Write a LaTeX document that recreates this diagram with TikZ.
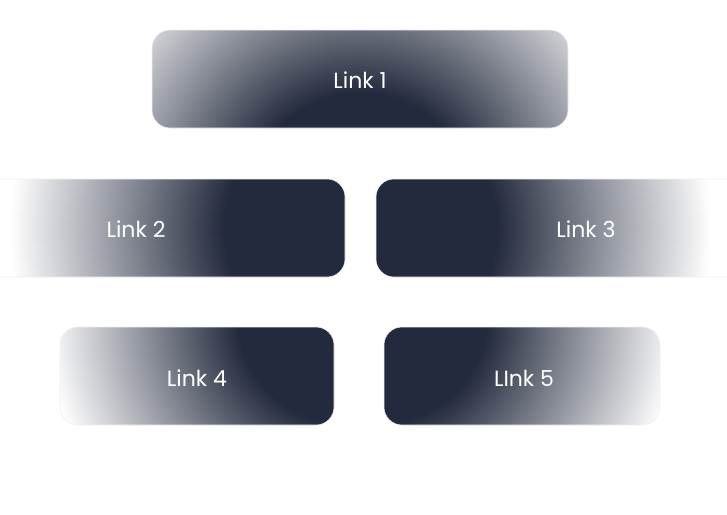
\documentclass[tikz,border=0pt]{standalone}
\usepackage{fontspec}
\setmainfont{Poppins}
\definecolor{navy}{HTML}{232A3D}
\pgfdeclareradialshading{fadeN}{\pgfpoint{0bp}{0bp}}{color(0bp)=(navy); color(9bp)=(navy); color(25bp)=(white); color(50bp)=(white)}
\tikzset{lbl/.style={text=white,font=\fontsize{16.5}{18}\selectfont}}
\newcommand{\fadebox}[7]{%
 \begin{scope}
 \clip[rounded corners=13.5pt] (#1,#2) rectangle (#3,#4);
 \shade[shading=fadeN] (#5,#6) circle[radius=#7];
 \end{scope}
 \draw[gray!12,rounded corners=13.5pt] (#1,#2) rectangle (#3,#4);}
\begin{document}
\begin{tikzpicture}[x=0.75pt,y=-0.75pt]
\useasboundingbox[fill=white] (0,0) rectangle (727,514);
\fadebox{152}{30}{568}{128}{360}{205}{310}
\fadebox{-20}{179}{345}{277}{345}{229}{335}
\fadebox{376}{179}{747}{277}{376}{229}{335}
\fadebox{60}{327}{334}{425}{345}{315}{300}
\fadebox{384}{327}{660}{425}{379}{315}{300}
\node[lbl] (l1) at (360,80) {Link 1};
\node[lbl] (l2) at (136,229) {Link 2};
\node[lbl] (l3) at (586,229) {Link 3};
\node[lbl] (l4) at (197,378) {Link 4};
\node[lbl] (l5) at (524,378) {LInk 5};
\end{tikzpicture}
\end{document}
